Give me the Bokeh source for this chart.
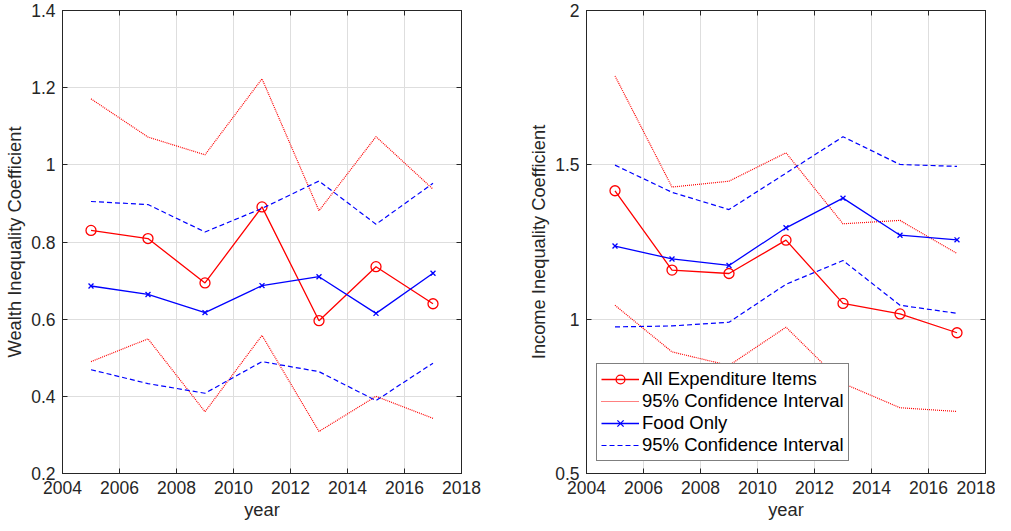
from bokeh.plotting import figure
from bokeh.layouts import row
from bokeh.models import (Legend, LegendItem, FixedTicker, CustomJSTickFormatter,
                          LinearAxis, Range1d)
from bokeh.embed import file_html
from bokeh.resources import INLINE

years = [2005, 2007, 2009, 2011, 2013, 2015, 2017]

wealth_all = [0.830, 0.809, 0.694, 0.891, 0.596, 0.736, 0.640]
wealth_all_upper = [1.171, 1.072, 1.026, 1.223, 0.881, 1.073, 0.937]
wealth_all_lower = [0.490, 0.549, 0.360, 0.558, 0.309, 0.400, 0.343]
wealth_food = [0.686, 0.664, 0.617, 0.687, 0.710, 0.615, 0.719]
wealth_food_upper = [0.905, 0.897, 0.826, 0.887, 0.958, 0.846, 0.952]
wealth_food_lower = [0.469, 0.433, 0.408, 0.490, 0.464, 0.389, 0.486]

income_all = [1.416, 1.159, 1.148, 1.256, 1.051, 1.017, 0.956]
income_all_upper = [1.788, 1.428, 1.447, 1.539, 1.309, 1.320, 1.213]
income_all_lower = [1.045, 0.894, 0.850, 0.974, 0.792, 0.713, 0.701]
income_food = [1.237, 1.195, 1.174, 1.296, 1.392, 1.272, 1.257]
income_food_upper = [1.499, 1.411, 1.355, 1.473, 1.591, 1.501, 1.495]
income_food_lower = [0.975, 0.978, 0.990, 1.113, 1.190, 1.045, 1.019]

x_ticks = [2004, 2006, 2008, 2010, 2012, 2014, 2016, 2018]
wealth_ticks = [0.2, 0.4, 0.6, 0.8, 1.0, 1.2, 1.4]
income_ticks = [0.5, 1.0, 1.5, 2.0]

FONT = "Liberation Sans"
AX = "#262626"
GRID = "#dedede"
TICK_SIZE = "17.5px"
LABEL_SIZE = "18.3px"

fmt_js = "return String(Math.round(tick*10)/10);"


def style_axis(ax, ticks, label_standoff):
    ax.ticker = FixedTicker(ticks=ticks)
    ax.axis_line_color = AX
    ax.major_tick_line_color = AX
    ax.major_tick_in = 5
    ax.major_tick_out = 0
    ax.minor_tick_in = 0
    ax.minor_tick_out = 0
    ax.major_label_text_font = FONT
    ax.major_label_text_font_size = TICK_SIZE
    ax.major_label_text_color = AX
    ax.major_label_standoff = label_standoff
    ax.axis_label_text_font = FONT
    ax.axis_label_text_font_size = LABEL_SIZE
    ax.axis_label_text_font_style = "normal"
    ax.axis_label_text_color = AX
    ax.formatter = CustomJSTickFormatter(code=fmt_js)


def mirror_axis(ticks):
    ax = LinearAxis(ticker=FixedTicker(ticks=ticks),
                    formatter=CustomJSTickFormatter(code="return '';"))
    ax.axis_line_color = AX
    ax.major_tick_line_color = AX
    ax.major_tick_in = 5
    ax.major_tick_out = 0
    ax.minor_tick_in = 0
    ax.minor_tick_out = 0
    ax.major_label_text_font_size = "0px"
    ax.major_label_standoff = 0
    return ax


def make_fig(ymin, ymax, yticks, ylabel, bl, br):
    p = figure(width=bl + 399 + br, height=523,
               x_range=Range1d(2004, 2018), y_range=Range1d(ymin, ymax),
               output_backend="svg", toolbar_location=None,
               min_border_left=bl, min_border_right=br,
               min_border_top=10, min_border_bottom=50)
    p.background_fill_color = "white"
    p.border_fill_color = "white"
    p.outline_line_color = AX
    p.outline_line_width = 1
    style_axis(p.xaxis[0], x_ticks, 7)
    style_axis(p.yaxis[0], yticks, 7)
    p.xaxis[0].axis_label = "year"
    p.xaxis[0].axis_label_standoff = 2
    p.yaxis[0].axis_label = ylabel
    p.yaxis[0].axis_label_standoff = 3
    p.xgrid.ticker = FixedTicker(ticks=x_ticks)
    p.ygrid.ticker = FixedTicker(ticks=yticks)
    for g in (p.xgrid[0], p.ygrid[0]):
        g.grid_line_color = GRID
        g.grid_line_width = 1
    p.add_layout(mirror_axis(yticks), "right")
    p.add_layout(mirror_axis(x_ticks), "above")
    return p


def draw(p, allv, allu, alll, food, foodu, foodl):
    r_all = p.line(years, allv, line_color="red", line_width=1.3)
    r_all_m = p.scatter(years, allv, marker="circle", size=10, line_color="red",
                        fill_color=None, line_width=1.3)
    r_all_u = p.line(years, allu, line_color="red", line_width=1.2, line_dash="1 1")
    r_all_l = p.line(years, alll, line_color="red", line_width=1.2, line_dash="1 1")
    r_food = p.line(years, food, line_color="blue", line_width=1.3)
    r_food_m = p.scatter(years, food, marker="x", size=7, line_color="blue", line_width=1.3)
    r_food_u = p.line(years, foodu, line_color="blue", line_width=1.2, line_dash="5 3")
    r_food_l = p.line(years, foodl, line_color="blue", line_width=1.2, line_dash="5 3")
    return [r_all, r_all_m], [r_all_u], [r_food, r_food_m], [r_food_u]


p1 = make_fig(0.2, 1.4, wealth_ticks, "Wealth Inequality Coefficient", 62, 20)
draw(p1, wealth_all, wealth_all_upper, wealth_all_lower,
     wealth_food, wealth_food_upper, wealth_food_lower)

p2 = make_fig(0.5, 2.0, income_ticks, "Income Inequality Coefficient", 105, 10)
a, b, c, d = draw(p2, income_all, income_all_upper, income_all_lower,
                  income_food, income_food_upper, income_food_lower)

legend = Legend(items=[
    LegendItem(label="All Expenditure Items", renderers=a),
    LegendItem(label="95% Confidence Interval", renderers=b),
    LegendItem(label="Food Only", renderers=c),
    LegendItem(label="95% Confidence Interval", renderers=d),
], location=(10, 12))
legend.label_text_font = FONT
legend.label_text_font_size = "18.5px"
legend.label_text_color = "black"
legend.label_height = 22
legend.label_standoff = 3
legend.glyph_width = 38
legend.glyph_height = 22
legend.spacing = 0
legend.padding = 4
legend.margin = 0
legend.border_line_color = "black"
legend.border_line_width = 1
legend.background_fill_color = "white"
legend.background_fill_alpha = 1
p2.add_layout(legend)

layout = row(p1, p2)
open("out.html", "w").write(file_html(layout, INLINE))
